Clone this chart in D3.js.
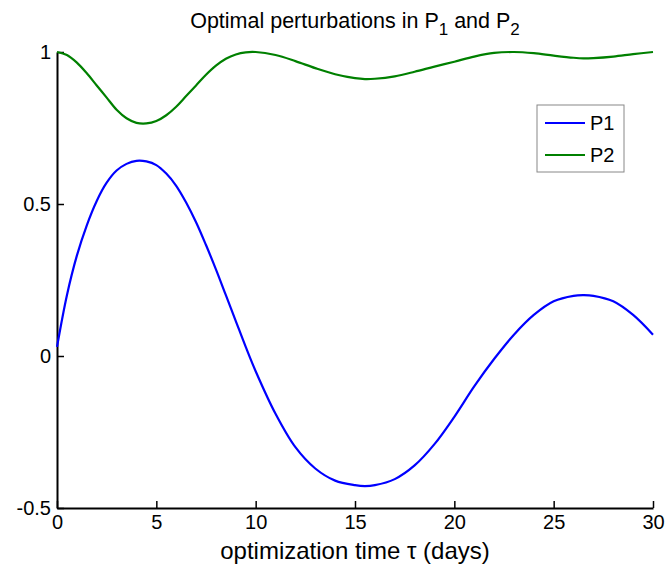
<!DOCTYPE html>
<html>
<head>
<meta charset="utf-8">
<script src="https://cdn.jsdelivr.net/npm/d3@7"></script>
<style>
  body { margin: 0; background: #fff; overflow: hidden; }
  svg { display: block; }
  svg text { font-family: "Liberation Sans", Arial, sans-serif; fill: #000; }
</style>
</head>
<body>
<svg id="chart"></svg>
<script>
const width = 667;
const height = 579;

const margin = { top: 52, right: 14, bottom: 71, left: 57 };

// data
const tValues = [0, 0.5, 1, 1.5, 2, 2.5, 3, 3.5, 4, 4.5, 5, 5.5, 6, 6.5, 7, 7.5, 8, 8.5, 9, 9.5, 10,
  11, 12, 13, 14, 15, 15.5, 16, 17, 18, 19, 20, 21, 22, 23, 24, 25, 26, 26.5, 27, 28, 29, 30];
const p1Values = [0.03, 0.2, 0.33, 0.43, 0.51, 0.57, 0.61, 0.632, 0.642, 0.64, 0.628, 0.6, 0.56, 0.505, 0.44, 0.365, 0.285, 0.2, 0.115, 0.03, -0.05,
  -0.19, -0.3, -0.37, -0.41, -0.425, -0.428, -0.425, -0.405, -0.36, -0.29, -0.2, -0.1, -0.01, 0.07, 0.135, 0.18, 0.198, 0.2, 0.198, 0.18, 0.135, 0.07];
const p2Values = [1.0, 0.99, 0.965, 0.93, 0.89, 0.85, 0.81, 0.782, 0.767, 0.765, 0.773, 0.792, 0.82, 0.855, 0.89, 0.925, 0.955, 0.978, 0.992, 0.999, 1.0,
  0.99, 0.97, 0.947, 0.927, 0.914, 0.911, 0.912, 0.92, 0.935, 0.952, 0.968, 0.985, 0.997, 1.0, 0.996, 0.988, 0.981, 0.979, 0.98, 0.985, 0.993, 1.0];

const seriesNames = ["P1", "P2"];
const seriesColors = ["#0000ff", "#008000"];
const xTicks = [0, 5, 10, 15, 20, 25, 30];
const yTicks = [-0.5, 0, 0.5, 1];

const svg = d3.select("#chart")
  .attr("width", width)
  .attr("height", height);

const innerWidth = width - margin.left - margin.right;
const innerHeight = height - margin.top - margin.bottom;

const graph = svg.append("g")
  .attr("transform", `translate(${margin.left}, ${margin.top})`);

const xScale = d3.scaleLinear().domain([0, 30]).range([0, innerWidth]);
const yScale = d3.scaleLinear().domain([-0.5, 1]).range([innerHeight, 0]);

// axes, matlab style: ticks pointing inward
const xAxis = d3.axisBottom(xScale).tickValues(xTicks).tickSizeInner(-7).tickSizeOuter(0).tickPadding(11);
const yAxis = d3.axisLeft(yScale).tickValues(yTicks).tickSizeInner(-7).tickSizeOuter(0).tickPadding(13)
  .tickFormat(d => d);

const gx = graph.append("g")
  .attr("transform", `translate(0, ${innerHeight})`)
  .call(xAxis);
const gy = graph.append("g").call(yAxis);

[gx, gy].forEach(g => {
  g.attr("font-size", null).attr("font-family", null).attr("fill", null);
  g.select(".domain").attr("stroke", "#000").attr("stroke-width", 2).attr("fill", "none");
  g.selectAll(".tick line").attr("stroke", "#000").attr("stroke-width", 1.5);
  g.selectAll(".tick text").attr("font-size", 20).attr("fill", "#000");
});
gx.selectAll(".tick text").attr("dy", "0.5em");
gy.selectAll(".tick text").attr("dx", "7");

// lines
const series = [p1Values, p2Values];
const line = d3.line()
  .x((d, i) => xScale(tValues[i]))
  .y(d => yScale(d))
  .curve(d3.curveCatmullRom.alpha(0.5));

graph.selectAll(".series")
  .data(series)
  .enter()
  .append("path")
  .attr("class", "series")
  .attr("d", d => line(d))
  .attr("fill", "none")
  .attr("stroke", (d, i) => seriesColors[i])
  .attr("stroke-width", 2.2);

// title with subscripts
const title = svg.append("text")
  .attr("x", margin.left + innerWidth / 2)
  .attr("y", 28)
  .attr("text-anchor", "middle")
  .attr("font-size", 21.5);
title.append("tspan").text("Optimal perturbations in P");
title.append("tspan").attr("dy", 7).attr("font-size", 17).text("1");
title.append("tspan").attr("dy", -7).text(" and P");
title.append("tspan").attr("dy", 7).attr("font-size", 17).text("2");

// x label
svg.append("text")
  .attr("x", margin.left + innerWidth / 2)
  .attr("y", 559)
  .attr("text-anchor", "middle")
  .attr("font-size", 24)
  .text("optimization time τ (days)");

// legend
const legend = svg.append("g").attr("transform", "translate(537, 105)");
legend.append("rect")
  .attr("width", 87)
  .attr("height", 67)
  .attr("fill", "#fff")
  .attr("stroke", "#888")
  .attr("stroke-width", 1);

seriesNames.forEach((name, i) => {
  const ly = 18 + i * 32;
  legend.append("line")
    .attr("x1", 8).attr("x2", 48)
    .attr("y1", ly).attr("y2", ly)
    .attr("stroke", seriesColors[i])
    .attr("stroke-width", 2.2);
  legend.append("text")
    .attr("x", 53)
    .attr("y", ly + 7)
    .attr("font-size", 20)
    .text(name);
});
</script>
</body>
</html>
